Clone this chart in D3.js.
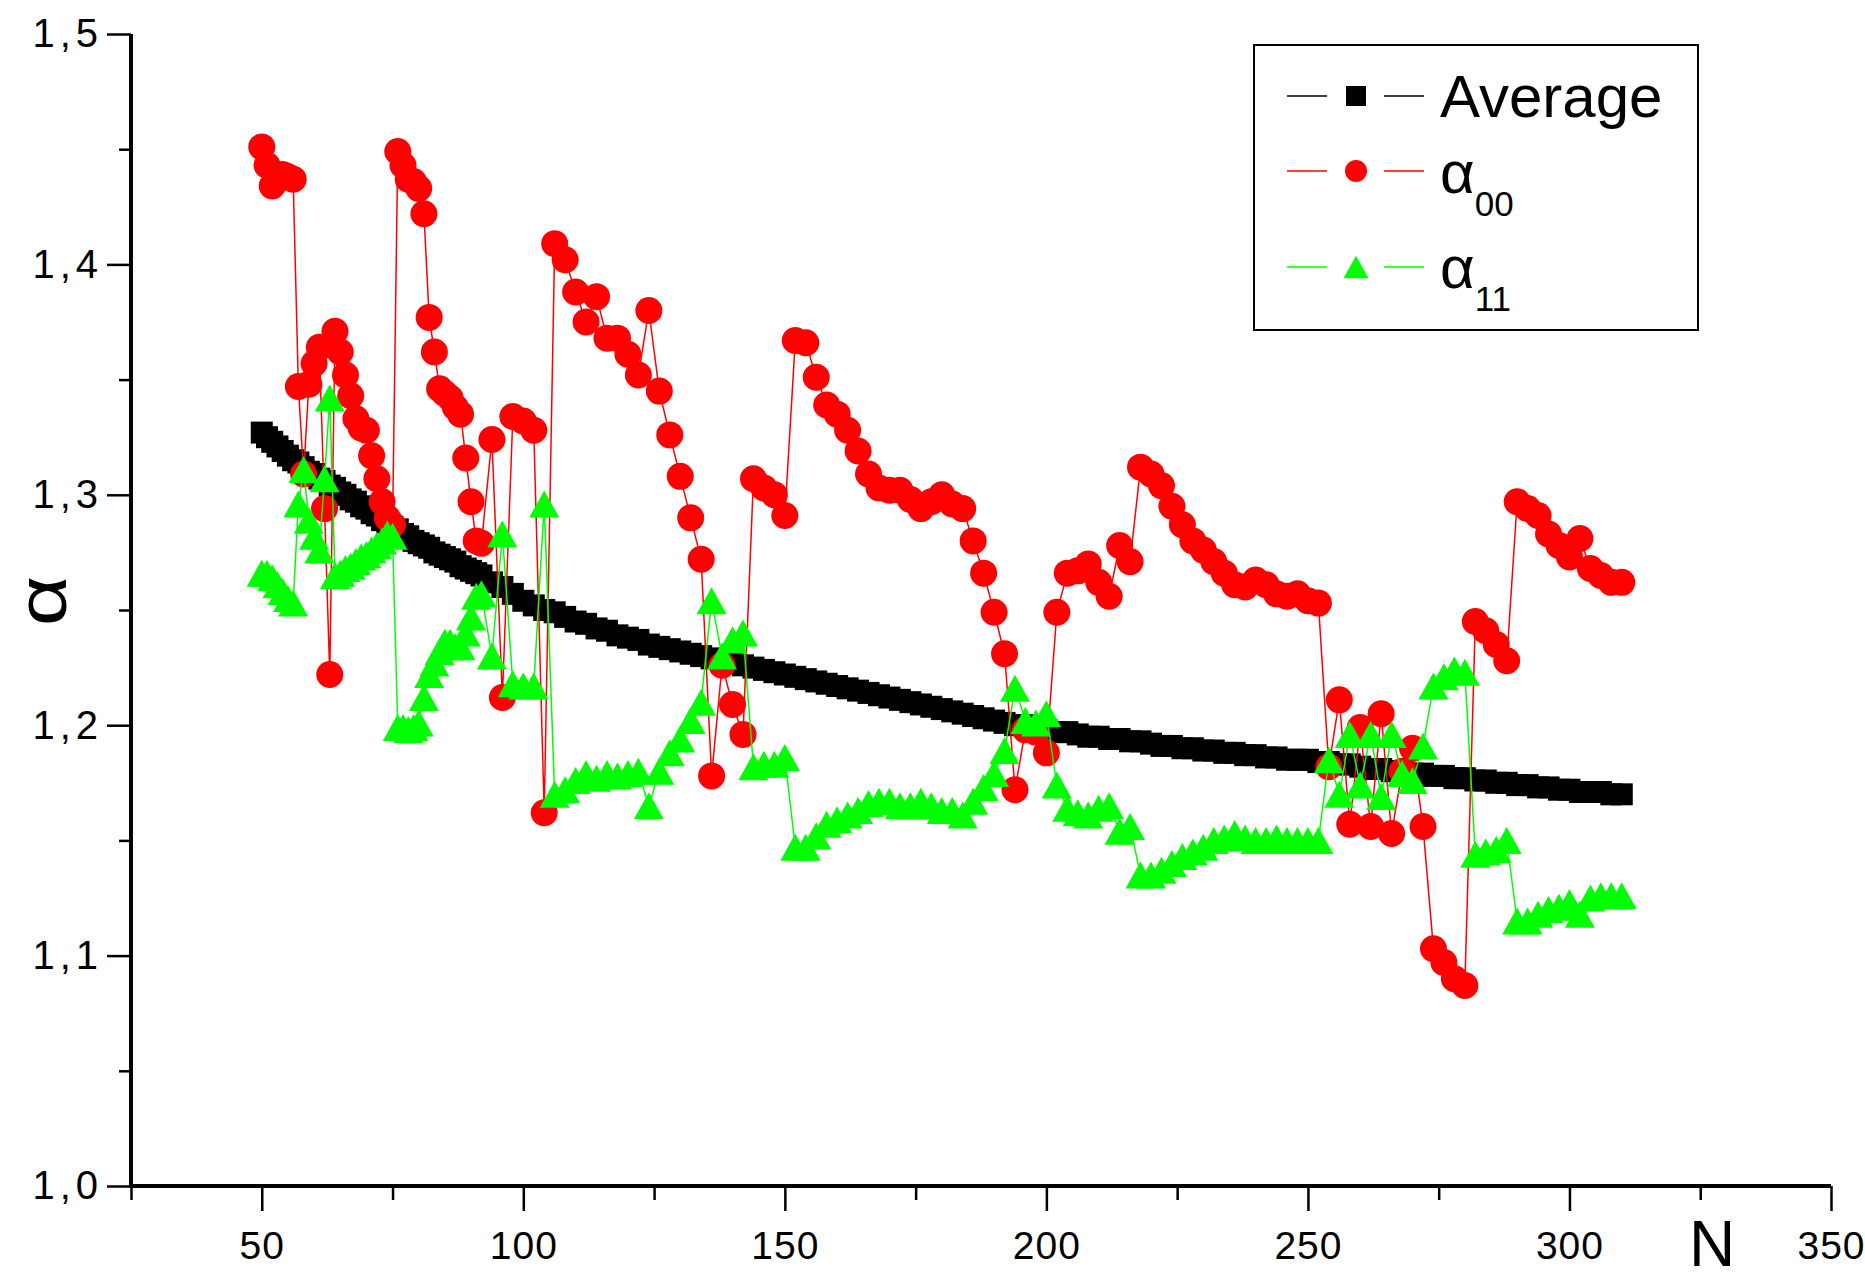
<!DOCTYPE html>
<html>
<head>
<meta charset="utf-8">
<script src="https://cdn.jsdelivr.net/npm/d3@7"></script>
<style>
  html, body { margin: 0; padding: 0; background: #fff; }
  svg { display: block; }
  text { font-family: "Liberation Sans", Arial, sans-serif; }
</style>
</head>
<body>
<svg id="chart" width="1865" height="1279"></svg>
<script>
// ---- data ----
const N = [
  50,51,52,53,54,55,56,57,58,59,
  60,61,62,63,64,65,66,67,68,69,
  70,71,72,73,74,75,76,77,78,79,
  80,81,82,83,84,85,86,87,88,89,
  90,91,92,94,96,98,100,102,104,106,
  108,110,112,114,116,118,120,122,124,126,
  128,130,132,134,136,138,140,142,144,146,
  148,150,152,154,156,158,160,162,164,166,
  168,170,172,174,176,178,180,182,184,186,
  188,190,192,194,196,198,200,202,204,206,
  208,210,212,214,216,218,220,222,224,226,
  228,230,232,234,236,238,240,242,244,246,
  248,250,252,254,256,258,260,262,264,266,
  268,270,272,274,276,278,280,282,284,286,
  288,290,292,294,296,298,300,302,304,306,
  308,310
];

const average = [
  1.327,1.325,1.323,1.321,1.319,1.317,1.315,1.314,1.312,1.310,
  1.309,1.307,1.306,1.304,1.303,1.301,1.300,1.298,1.297,1.295,
  1.294,1.292,1.291,1.289,1.288,1.286,1.285,1.283,1.282,1.280,
  1.279,1.278,1.277,1.275,1.274,1.273,1.272,1.271,1.269,1.268,
  1.267,1.266,1.265,1.262,1.260,1.257,1.254,1.252,1.250,1.249,
  1.247,1.245,1.244,1.242,1.241,1.239,1.238,1.237,1.235,1.234,
  1.233,1.232,1.231,1.230,1.229,1.228,1.227,1.226,1.225,1.224,
  1.223,1.222,1.221,1.220,1.219,1.218,1.217,1.216,1.215,1.214,
  1.213,1.212,1.211,1.210,1.209,1.208,1.207,1.206,1.205,1.204,
  1.203,1.202,1.201,1.200,1.200,1.199,1.198,1.197,1.197,1.196,
  1.195,1.195,1.194,1.194,1.193,1.193,1.192,1.191,1.191,1.190,
  1.190,1.189,1.189,1.188,1.188,1.187,1.187,1.186,1.186,1.185,
  1.185,1.185,1.184,1.184,1.183,1.183,1.182,1.181,1.181,1.180,
  1.180,1.179,1.179,1.178,1.178,1.177,1.177,1.176,1.176,1.175,
  1.175,1.174,1.174,1.173,1.173,1.172,1.172,1.171,1.171,1.171,
  1.170,1.170
];

const alpha00 = [
  1.451,1.443,1.434,1.437,1.439,1.438,1.437,1.347,1.309,1.348,
  1.357,1.364,1.294,1.222,1.371,1.362,1.352,1.343,1.333,1.329,
  1.328,1.317,1.307,1.297,1.290,1.287,1.449,1.443,1.437,1.436,
  1.433,1.422,1.377,1.362,1.346,1.344,1.342,1.338,1.335,1.316,
  1.297,1.280,1.279,1.324,1.212,1.334,1.332,1.328,1.162,1.409,
  1.402,1.388,1.375,1.386,1.368,1.368,1.361,1.352,1.380,1.345,
  1.326,1.308,1.290,1.272,1.178,1.226,1.209,1.196,1.307,1.303,
  1.300,1.291,1.367,1.366,1.351,1.339,1.335,1.328,1.319,1.309,
  1.303,1.302,1.302,1.298,1.294,1.297,1.300,1.296,1.294,1.280,
  1.266,1.249,1.231,1.172,1.198,1.197,1.188,1.249,1.266,1.267,
  1.270,1.262,1.256,1.278,1.271,1.312,1.309,1.304,1.295,1.287,
  1.280,1.276,1.271,1.266,1.261,1.260,1.263,1.261,1.257,1.256,
  1.257,1.254,1.253,1.182,1.211,1.157,1.199,1.156,1.205,1.153,
  1.180,1.190,1.156,1.103,1.097,1.090,1.087,1.245,1.241,1.235,
  1.228,1.297,1.294,1.291,1.283,1.278,1.273,1.281,1.268,1.265,
  1.262,1.262
];

const alpha11 = [
  1.266,1.266,1.264,1.261,1.258,1.255,1.253,1.296,1.311,1.289,
  1.282,1.276,1.307,1.342,1.265,1.266,1.268,1.269,1.271,1.273,
  1.274,1.276,1.278,1.280,1.283,1.282,1.199,1.199,1.198,1.199,
  1.201,1.212,1.222,1.227,1.232,1.236,1.236,1.234,1.234,1.240,
  1.247,1.256,1.257,1.230,1.283,1.218,1.217,1.217,1.296,1.170,
  1.172,1.176,1.179,1.177,1.179,1.178,1.179,1.180,1.165,1.180,
  1.188,1.194,1.202,1.210,1.254,1.230,1.237,1.240,1.182,1.183,
  1.183,1.186,1.147,1.147,1.152,1.157,1.159,1.161,1.163,1.166,
  1.167,1.167,1.165,1.165,1.167,1.165,1.163,1.163,1.161,1.167,
  1.173,1.179,1.189,1.216,1.202,1.201,1.205,1.174,1.164,1.162,
  1.161,1.164,1.165,1.154,1.156,1.135,1.135,1.137,1.140,1.143,
  1.145,1.147,1.150,1.151,1.153,1.151,1.150,1.150,1.151,1.150,
  1.150,1.150,1.150,1.185,1.170,1.196,1.174,1.196,1.169,1.196,
  1.179,1.176,1.191,1.217,1.221,1.224,1.223,1.144,1.145,1.146,
  1.150,1.115,1.115,1.118,1.120,1.121,1.123,1.118,1.125,1.126,
  1.126,1.126
];

const xMajorTicks = [50, 100, 150, 200, 250, 300, 350];
const xMinorTicks = [25, 75, 125, 175, 225, 275, 325];
const yMajorTicks = [1.0, 1.1, 1.2, 1.3, 1.4, 1.5];
const yMinorTicks = [1.05, 1.15, 1.25, 1.35, 1.45];

const seriesNames = ["Average", "\u03B1", "\u03B1"];
const seriesSubs = ["", "00", "11"];
const seriesColors = ["#000000", "#ff0000", "#00ff00"];
const seriesShapes = ["square", "circle", "triangle"];
const xTitle = "N";
const yTitle = "\u03B1";

// ---- drawing ----
const svg = d3.select("#chart");
const W = 1865, H = 1279;
svg.append("rect").attr("width", W).attr("height", H).attr("fill", "#fff");

const x = d3.scaleLinear().domain([25, 350]).range([131, 1831]);
const y = d3.scaleLinear().domain([1.0, 1.5]).range([1186, 34]);

const fmtComma = v => d3.format(".1f")(v).replace(".", ",");

function shapePath(shape, s) {
  if (shape === "square") return `M${-s/2},${-s/2}h${s}v${s}h${-s}Z`;
  if (shape === "circle") return d3.symbol(d3.symbolCircle, Math.PI * (s/2) * (s/2))();
  const h = s * 0.9;
  return `M0,${-h/2}L${s/2},${h/2}L${-s/2},${h/2}Z`;
}

const series = [
  { values: average, color: seriesColors[0], shape: seriesShapes[0], size: 22 },
  { values: alpha00, color: seriesColors[1], shape: seriesShapes[1], size: 27 },
  { values: alpha11, color: seriesColors[2], shape: seriesShapes[2], size: 30 }
];

const plot = svg.append("g");
series.forEach(s => {
  const n = Math.min(N.length, s.values.length);
  const pts = d3.range(n).map(i => [N[i], s.values[i]]);
  plot.append("path")
    .datum(pts)
    .attr("fill", "none")
    .attr("stroke", s.color)
    .attr("stroke-width", 1.5)
    .attr("d", d3.line().x(d => x(d[0])).y(d => y(d[1])));
  plot.append("g").selectAll("path")
    .data(pts)
    .join("path")
    .attr("transform", d => `translate(${x(d[0])},${y(d[1])})`)
    .attr("d", shapePath(s.shape, s.size))
    .attr("fill", s.color);
});

// axes
const xAxisG = svg.append("g").attr("transform", "translate(0,1186)");
xAxisG.call(d3.axisBottom(x).tickValues(xMinorTicks).tickSize(14).tickSizeOuter(0).tickFormat(""));
xAxisG.select(".domain").remove();
const xAxisMaj = svg.append("g").attr("transform", "translate(0,1186)");
xAxisMaj.call(d3.axisBottom(x).tickValues(xMajorTicks).tickSize(25).tickSizeOuter(0).tickFormat(d3.format("d")));
xAxisMaj.select(".domain").attr("stroke-width", 4).attr("d", `M${x(25)},0H${x(350)}`);
xAxisMaj.selectAll(".tick text")
  .attr("y", 0).attr("dy", null)
  .attr("transform", "translate(0,73)")
  .attr("font-size", 39).attr("fill", "#000").attr("letter-spacing", 1)
  .attr("font-family", "'Liberation Sans', Arial, sans-serif");

const yAxisG = svg.append("g").attr("transform", "translate(131,0)");
yAxisG.call(d3.axisLeft(y).tickValues(yMinorTicks).tickSize(12).tickSizeOuter(0).tickFormat(""));
yAxisG.select(".domain").remove();
const yAxisMaj = svg.append("g").attr("transform", "translate(131,0)");
yAxisMaj.call(d3.axisLeft(y).tickValues(yMajorTicks).tickSize(24).tickSizeOuter(0).tickFormat(fmtComma).tickPadding(4));
yAxisMaj.select(".domain").attr("stroke-width", 4).attr("d", `M0,${y(1.5)}V${y(1.0) + 2}`);
yAxisMaj.selectAll(".tick text")
  .attr("font-size", 40).attr("fill", "#000").attr("letter-spacing", 5)
  .attr("font-family", "'Liberation Sans', Arial, sans-serif");
svg.selectAll(".tick line").attr("stroke-width", 2.5);

// axis titles
svg.append("text")
  .attr("x", 1689).attr("y", 1266)
  .attr("font-size", 64)
  .text(xTitle);

svg.append("text")
  .attr("transform", "translate(42,601) rotate(-90) scale(1.25,1)")
  .attr("text-anchor", "middle")
  .attr("dominant-baseline", "central")
  .attr("font-size", 70)
  .text(yTitle);

// legend
const lg = svg.append("g");
lg.append("rect").attr("x", 1254).attr("y", 45).attr("width", 444).attr("height", 285)
  .attr("fill", "#fff").attr("stroke", "#000").attr("stroke-width", 2);
const rowsY = [96, 171, 267];
const legSizes = [20, 22, 25];
series.forEach((s, i) => {
  const yy = rowsY[i];
  lg.append("line").attr("x1", 1287).attr("x2", 1327).attr("y1", yy).attr("y2", yy)
    .attr("stroke", s.color).attr("stroke-width", 1.5);
  lg.append("line").attr("x1", 1384).attr("x2", 1424).attr("y1", yy).attr("y2", yy)
    .attr("stroke", s.color).attr("stroke-width", 1.5);
  lg.append("path").attr("transform", `translate(1356,${yy})`)
    .attr("d", shapePath(s.shape, legSizes[i])).attr("fill", s.color);
  const t = lg.append("text").attr("x", 1440).attr("font-size", 60).attr("fill", "#000");
  if (i === 0) {
    t.attr("y", 117).text(seriesNames[i]);
  } else {
    const base = i === 1 ? 193 : 288;
    t.attr("y", base);
    t.append("tspan").text(seriesNames[i]);
    t.append("tspan").attr("font-size", 35).attr("dy", 23).text(seriesSubs[i]);
  }
});
</script>
</body>
</html>
